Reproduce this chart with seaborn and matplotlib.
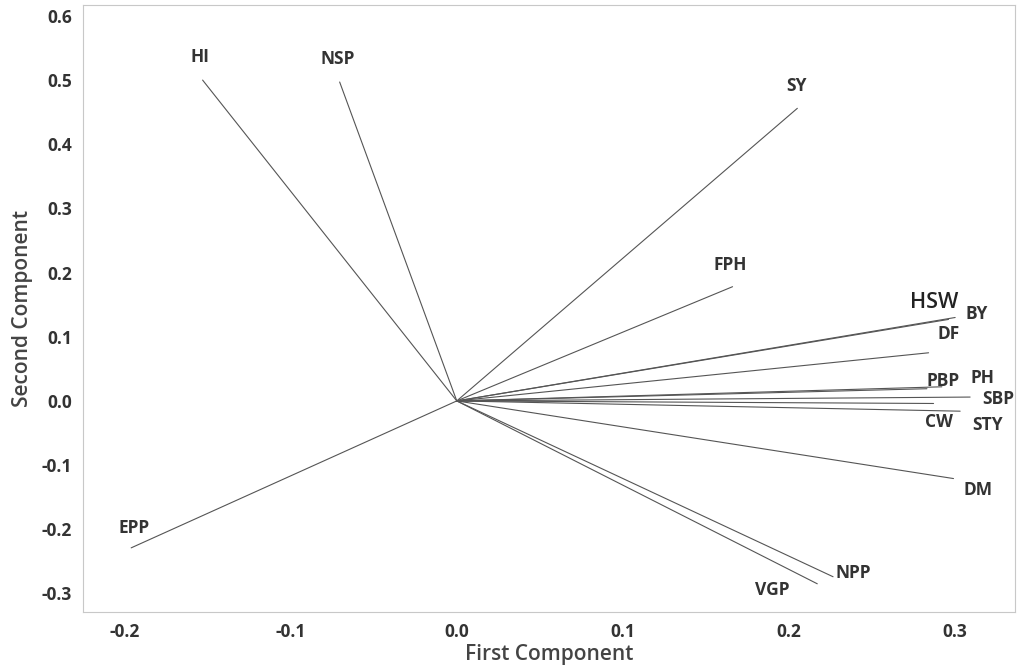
import pandas as pd
import matplotlib.pyplot as plt
import seaborn as sns

# loading vectors (first component, second component)
variables = ['HI', 'NSP', 'SY', 'FPH', 'HSW', 'BY', 'DF', 'PBP', 'PH',
             'SBP', 'CW', 'STY', 'DM', 'NPP', 'VGP', 'EPP']
pc1 = [-0.153, -0.0705, 0.205, 0.166, 0.296, 0.300, 0.284, 0.283, 0.292,
       0.309, 0.287, 0.303, 0.299, 0.2265, 0.217, -0.196]
pc2 = [0.500, 0.497, 0.456, 0.178, 0.127, 0.130, 0.075, 0.019, 0.022,
       0.006, -0.004, -0.016, -0.121, -0.274, -0.285, -0.229]

# label offsets in pixels (layout only)
offsets = {'HI': (-3, 23), 'NSP': (-2, 23), 'SY': (-1, 22), 'FPH': (-2, 22),
           'HSW': (-14, 17), 'BY': (22, 3), 'DF': (20, 19), 'PBP': (16, 8),
           'PH': (41, 9), 'SBP': (28, -2), 'CW': (5, -19), 'STY': (27, -14),
           'DM': (25, -11), 'NPP': (20, 4), 'VGP': (-45, -6), 'EPP': (3, 20)}

# each vector drawn from the origin
rows = []
for v, a, b in zip(variables, pc1, pc2):
    rows.append({'var': v, 'x': 0.0, 'y': 0.0})
    rows.append({'var': v, 'x': a, 'y': b})
df = pd.DataFrame(rows)

sns.set_style('white')
plt.rcParams['font.family'] = ['Open Sans', 'DejaVu Sans']

fig = plt.figure(figsize=(10.17, 6.68), dpi=100)
ax = fig.add_axes([0.0816, 0.0838, 0.9164, 0.9087])

sns.lineplot(data=df, x='x', y='y', units='var', estimator=None, sort=False,
             color='#555555', linewidth=0.8, ax=ax)

for v, a, b in zip(variables, pc1, pc2):
    dx, dy = offsets[v]
    if v == 'HSW':
        ax.annotate(v, (a, b), xytext=(dx, dy), textcoords='offset pixels',
                    ha='center', va='center', fontsize=15.5,
                    fontweight='semibold', color='#222222')
    else:
        ax.annotate(v, (a, b), xytext=(dx, dy), textcoords='offset pixels',
                    ha='center', va='center', fontsize=12.5,
                    fontweight='bold', color='#333333')

ax.set_xlim(-0.225, 0.336)
ax.set_ylim(-0.329, 0.617)
ax.set_xticks([-0.2, -0.1, 0.0, 0.1, 0.2, 0.3])
ax.set_yticks([-0.3, -0.2, -0.1, 0.0, 0.1, 0.2, 0.3, 0.4, 0.5, 0.6])
ax.set_xticklabels(['-0.2', '-0.1', '0.0', '0.1', '0.2', '0.3'])
ax.set_yticklabels(['-0.3', '-0.2', '-0.1', '0.0', '0.1', '0.2', '0.3',
                    '0.4', '0.5', '0.6'])

ax.tick_params(axis='both', direction='out', length=4, width=0.8,
               color='#aaaaaa', labelsize=12.5, labelcolor='#333333', pad=4)
for lab in ax.get_xticklabels() + ax.get_yticklabels():
    lab.set_fontweight('bold')

for s in ax.spines.values():
    s.set_color('#c8c8c8')
    s.set_linewidth(0.8)

ax.set_xlabel('First Component', fontsize=15, color='#444444',
              fontweight='semibold', labelpad=2)
ax.set_ylabel('Second Component', fontsize=15, color='#444444',
              fontweight='semibold', labelpad=6)

fig.savefig('out.png', dpi=100)
